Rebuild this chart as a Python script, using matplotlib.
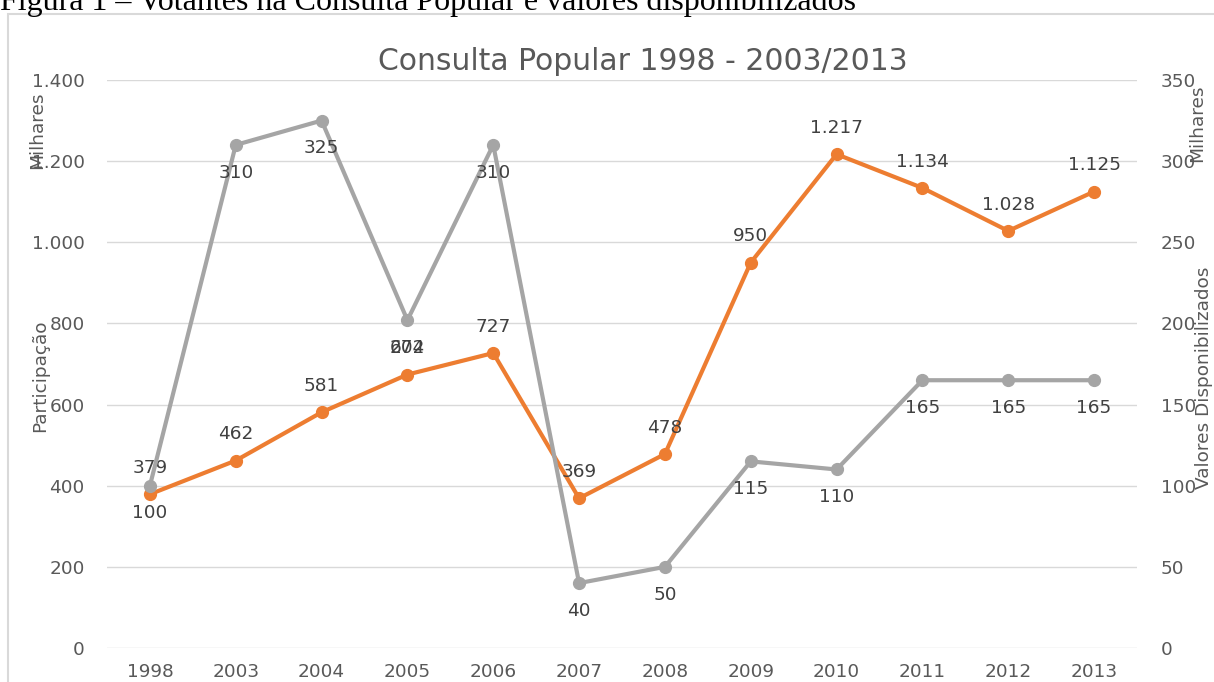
import matplotlib.pyplot as plt
import matplotlib.patches as patches
from matplotlib.ticker import FuncFormatter

anos = ['1998', '2003', '2004', '2005', '2006', '2007', '2008', '2009', '2010', '2011', '2012', '2013']
participacao = [379, 462, 581, 674, 727, 369, 478, 950, 1217, 1134, 1028, 1125]
valores = [100, 310, 325, 202, 310, 40, 50, 115, 110, 165, 165, 165]

W, H = 1214, 682


def fmt_pt(v, pos=None):
    return '{:,.0f}'.format(v).replace(',', '.')


def make_graph():
    plt.rcParams['font.family'] = 'DejaVu Sans'
    fig = plt.figure(figsize=(W / 100, H / 100), dpi=100)
    ax = fig.add_axes([107 / W, 1 - 648 / H, (1137 - 107) / W, (648 - 80) / H])
    ax2 = ax.twinx()

    x = list(range(len(anos)))
    ax.plot(x, participacao, color='#ED7D31', lw=3, marker='o', ms=8.5, zorder=3)
    ax2.plot(x, valores, color='#A5A5A5', lw=3, marker='o', ms=8.5, zorder=3)

    ax.set_xlim(-0.5, len(anos) - 0.5)
    ax.set_ylim(0, 1400)
    ax2.set_ylim(0, 350)
    ax.set_yticks(range(0, 1401, 200))
    ax2.set_yticks(range(0, 351, 50))
    ax.yaxis.set_major_formatter(FuncFormatter(fmt_pt))
    ax.set_xticks(x)
    ax.set_xticklabels(anos)
    ax.grid(axis='y', color='#d9d9d9', lw=1)
    ax.set_axisbelow(True)

    fs = 13.3
    for a in (ax, ax2):
        for s in a.spines.values():
            s.set_visible(False)
        a.tick_params(length=0, labelsize=fs, labelcolor='#595959')
    ax.tick_params(axis='y', pad=16)
    ax.tick_params(axis='x', pad=11)
    ax2.tick_params(axis='y', pad=17)

    for i, v in enumerate(participacao):
        ax.annotate(fmt_pt(v), (i, v), xytext=(0, 19), textcoords='offset points',
                    ha='center', va='center', fontsize=fs, color='#404040')
    for i, v in enumerate(valores):
        ax2.annotate(fmt_pt(v), (i, v), xytext=(0, -20), textcoords='offset points',
                     ha='center', va='center', fontsize=fs, color='#404040')

    fig.text(643 / W, 1 - 61 / H, 'Consulta Popular 1998 - 2003/2013', ha='center', va='center',
             fontsize=21.5, color='#595959')
    fig.text(37 / W, 1 - 130 / H, 'Milhares', rotation=90, ha='center', va='center',
             fontsize=fs, color='#595959')
    fig.text(40 / W, 1 - 376 / H, 'Participação', rotation=90, ha='center', va='center',
             fontsize=fs, color='#595959')
    fig.text(1197 / W, 1 - 123 / H, 'Milhares', rotation=90, ha='center', va='center',
             fontsize=fs, color='#595959')
    fig.text(1204 / W, 1 - 378 / H, 'Valores Disponibilizados', rotation=90, ha='center', va='center',
             fontsize=fs, color='#595959')

    fig.text(0, 1 - 10 / H, 'Figura 1 – Votantes na Consulta Popular e valores disponibilizados',
             ha='left', va='baseline', fontsize=23, family='Liberation Serif', color='black')

    frame = patches.Rectangle((8 / W, -0.1), 1.2, 1.1 - 14 / H, transform=fig.transFigure,
                              fill=False, edgecolor='#d9d9d9', lw=1.5)
    fig.patches.append(frame)

    fig.savefig('out.png', dpi=100)


if __name__ == '__main__':
    make_graph()
